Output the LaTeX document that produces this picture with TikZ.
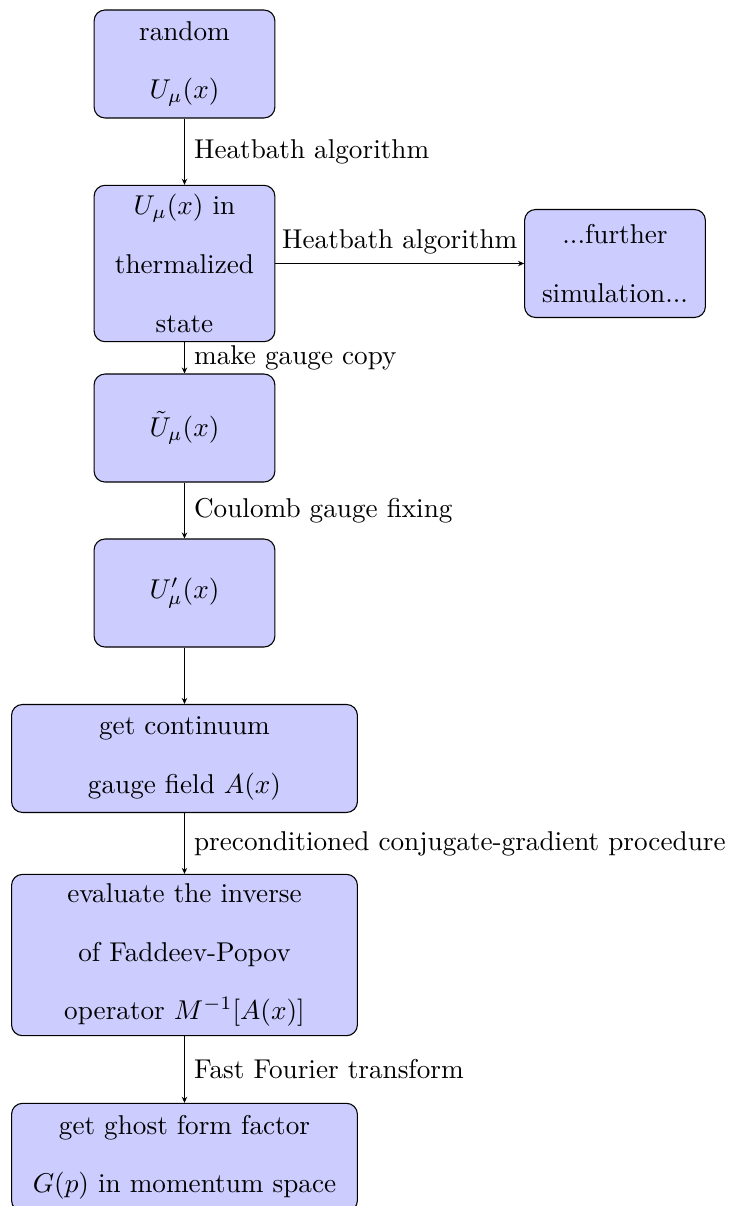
\documentclass[tikz,border=0pt]{standalone}
\usepackage{tikz}
\usetikzlibrary{shapes, arrows.meta, positioning}
\usepackage{amsmath}

\tikzset{
	stage/.style={draw, fill=blue!20, rounded corners, align=center,
		text width=59.8pt, minimum height=39.7pt,
		font=\linespread{1.8}\selectfont},
	widestage/.style={stage, text width=120.5pt},
	flow/.style={-{Stealth[length=2.2pt,width=2pt]}}
}

\begin{document}
\begin{tikzpicture}
		\useasboundingbox (0,0) rectangle (9.446,-15.584);
		% main chain
		\node[stage] (rand) at (2.384,-0.827) {random\\$U_\mu(x)$};
		\node[stage] (therm) at (2.384,-3.405) {$U_\mu(x)$ in\\thermalized\\state};
		\node[stage] (further) at (7.947,-3.405) {...further\\simulation...};
		\node[stage] (copy) at (2.384,-5.531) {$\tilde{U}_\mu(x)$};
		\node[stage] (fixed) at (2.384,-7.663) {$U'_\mu(x)$};
		\node[widestage] (cont) at (2.384,-9.801) {get continuum\\gauge field $A(x)$};
		\node[widestage] (fp) at (2.384,-12.341) {evaluate the inverse\\of Faddeev-Popov\\operator $M^{-1}[A(x)]$};
		\node[widestage] (ghost) at (2.384,-14.955) {get ghost form factor\\$G(p)$ in momentum space};
		
		\draw[flow] (rand) -- (therm) node[midway, right] {Heatbath algorithm};
		\draw[flow] (therm) -- (further) node[midway, above] {Heatbath algorithm};
		\draw[flow] (therm) -- (copy) node[midway, right] {make gauge copy};
		\draw[flow] (copy) -- (fixed) node[midway, right] {Coulomb gauge fixing};
		\draw[flow] (fixed) -- (cont);
		\draw[flow] (cont) -- (fp) node[midway, right] {preconditioned conjugate-gradient procedure};
		\draw[flow] (fp) -- (ghost) node[midway, right] {Fast Fourier transform};
	\end{tikzpicture}
\end{document}
